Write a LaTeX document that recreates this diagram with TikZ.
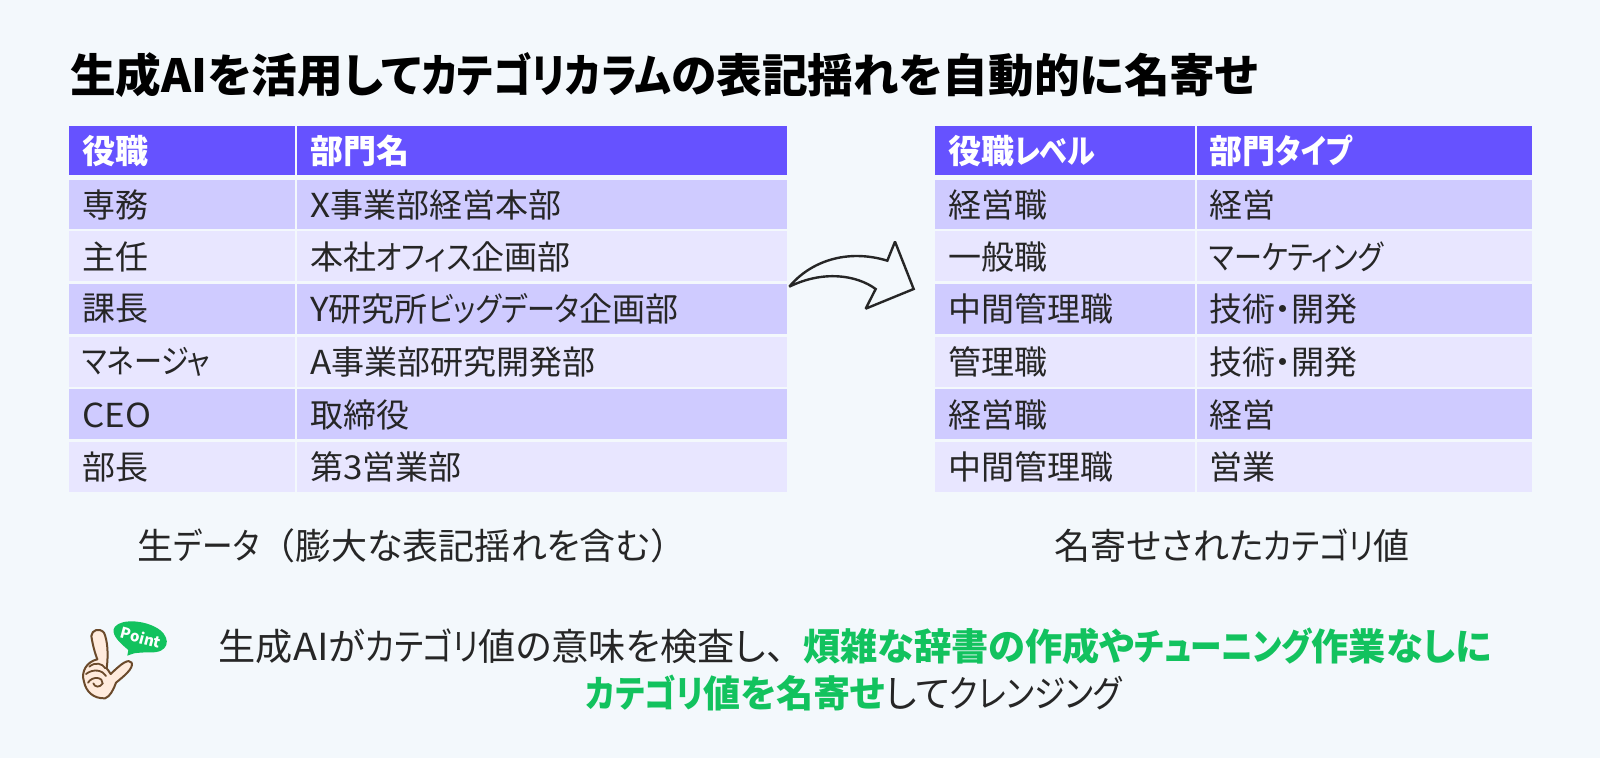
\documentclass[tikz,border=0pt]{standalone}
\usepackage{fontspec}
\setmainfont[RawFeature=+palt]{Noto Sans CJK JP}
\newfontfamily\kanafam[RawFeature=+palt,FakeStretch=0.85]{Noto Sans CJK JP}
\newfontfamily\latinfam[FakeStretch=1.06]{Noto Sans CJK JP}
\newfontfamily\fullfam{Noto Sans CJK JP}
\newcommand{\kn}[1]{{\kanafam #1}}
\newcommand{\lt}[1]{{\latinfam #1}}
\definecolor{bgc}{HTML}{F3F8FC}
\definecolor{hdr}{HTML}{6652FF}
\definecolor{rowa}{HTML}{CFCBFF}
\definecolor{rowb}{HTML}{E8E6FF}
\definecolor{ink}{HTML}{262626}
\definecolor{grn}{HTML}{12C25E}
\definecolor{handc}{HTML}{FFEBDD}
\definecolor{handl}{HTML}{6B4A2B}
\tikzset{x=1pt,y=-1pt,
 txt/.style={anchor=west,inner sep=0pt,text=ink,font=\fontsize{33}{38}\selectfont},
 htxt/.style={anchor=west,inner sep=0pt,text=white,font=\fontsize{33}{38}\selectfont\bfseries},
 captxt/.style={anchor=center,inner sep=0pt,text=ink,font=\fontsize{36}{42}\selectfont},
 pttxt/.style={anchor=center,inner sep=0pt,text=ink,font=\fontsize{37.2}{42}\selectfont},
 hand/.style={fill=handc,draw=handl,line width=2pt,line join=round,line cap=round},
 handin/.style={draw=handl,line width=1.8pt,line cap=round}}
\newcommand{\gb}[1]{\textcolor{grn}{\bfseries #1}}
\newcommand{\rowband}[3]{%
 \fill[#1] (69,#2) rectangle (294.5,#3);
 \fill[#1] (297,#2) rectangle (787,#3);
 \fill[#1] (935,#2) rectangle (1194.5,#3);
 \fill[#1] (1197,#2) rectangle (1532,#3);}
\begin{document}
\begin{tikzpicture}
\useasboundingbox (0,0) rectangle (1600,758);
\fill[bgc] (0,0) rectangle (1600,758);
\node[anchor=west,inner sep=0pt,text=black,font=\fontsize{45.7}{50}\selectfont\bfseries] (title) at (70,75) {生成AIを活用して\kn{カテゴリカラム}の表記揺れを自動的に名寄せ};
% row bands
\rowband{hdr}{125.5}{174.5}
\rowband{rowa}{180}{229}
\rowband{rowb}{231}{281}
\rowband{rowa}{284}{334}
\rowband{rowb}{337}{387}
\rowband{rowa}{389}{439}
\rowband{rowb}{442}{492}
% left table
\node[htxt] (l0a) at (82,151) {役職};
\node[htxt] (l0b) at (310,151) {部門名};
\node[txt] (l1a) at (82,205) {専務};
\node[txt] (l1b) at (310,205) {\lt{X}事業部経営本部};
\node[txt] (l2a) at (82,257) {主任};
\node[txt] (l2b) at (310,257) {本社\kn{オフィス}企画部};
\node[txt] (l3a) at (82,309) {課長};
\node[txt] (l3b) at (310,309) {\lt{Y}研究所\kn{ビッグデータ}企画部};
\node[txt] (l4a) at (82,362) {\kn{マネージャ}};
\node[txt] (l4b) at (310,362) {\lt{A}事業部研究開発部};
\node[txt] (l5a) at (82,415) {\lt{CEO}};
\node[txt] (l5b) at (310,415) {取締役};
\node[txt] (l6a) at (82,467) {部長};
\node[txt] (l6b) at (310,467) {第\lt{3}営業部};
% right table
\node[htxt] (r0a) at (948,151) {役職\kn{レベル}};
\node[htxt] (r0b) at (1209,151) {部門\kn{タイプ}};
\node[txt] (r1a) at (948,205) {経営職};
\node[txt] (r1b) at (1209,205) {経営};
\node[txt] (r2a) at (948,257) {一般職};
\node[txt] (r2b) at (1209,257) {\kn{マーケティング}};
\node[txt] (r3a) at (948,309) {中間管理職};
\node[txt] (r3b) at (1209,309) {技術・開発};
\node[txt] (r4a) at (948,362) {管理職};
\node[txt] (r4b) at (1209,362) {技術・開発};
\node[txt] (r5a) at (948,415) {経営職};
\node[txt] (r5b) at (1209,415) {経営};
\node[txt] (r6a) at (948,467) {中間管理職};
\node[txt] (r6b) at (1209,467) {営業};
% captions
\node[captxt] (capl) at (412,546) {生\kn{データ}{\fullfam （}膨大な表記揺れを含む{\fullfam ）}};
\node[captxt] (capr) at (1232,546) {名寄せされた\kn{カテゴリ}値};
\node[pttxt] (pt1) at (855,646) {生成\lt{AI}が\kn{カテゴリ}値の意味を検査し{\fullfam 、}\gb{煩雑な辞書の作成や\kn{チューニング}作業なしに}};
\node[pttxt] (pt2) at (854,693) {\gb{\kn{カテゴリ}値を名寄せ}して\kn{クレンジング}};
% curved arrow
\begin{scope}[shift={(760,220)},x=1/3*1pt,y=-1/3*1pt]
\fill[bgc,draw=black!85,line width=2.4pt,line join=miter,miter limit=2]
 (88,200) .. controls (150,125) and (260,85) .. (382,122) -- (405,65) -- (461,207) -- (317,266) -- (347,207)
 .. controls (290,165) and (190,150) .. (88,200) -- cycle;
\end{scope}
% hand with Point balloon
\begin{scope}[shift={(60,600)},x=1/3*1pt,y=-1/3*1pt]
\fill[grn] (205,150) .. controls (175,125) and (150,100) .. (165,80) .. controls (185,55) and (260,60) .. (300,90) .. controls (335,118) and (325,160) .. (270,157) .. controls (250,157) and (235,158) .. (222,160) -- (202,167) -- cycle;
\node[text=white,rotate=-15,inner sep=0pt,font=\fontsize{15}{15}\selectfont\bfseries] (pointlabel) at (243,112) {Point};
\path[hand] (140,205) .. controls (146,160) and (142,120) .. (132,98) .. controls (118,82) and (95,90) .. (94,108) .. controls (98,135) and (105,160) .. (112,178)
 .. controls (80,185) and (62,215) .. (72,245) .. controls (78,275) and (100,296) .. (135,295) .. controls (150,290) and (160,270) .. (168,248) .. controls (190,230) and (222,205) .. (215,188) .. controls (205,175) and (185,190) .. (152,222) .. controls (148,215) and (144,210) .. (140,205) -- cycle;
\draw[handin] (88,200) .. controls (105,185) and (128,190) .. (136,205);
\draw[handin] (78,222) .. controls (100,205) and (128,210) .. (138,228);
\draw[handin] (84,248) .. controls (98,226) and (130,232) .. (128,250) .. controls (120,264) and (104,262) .. (100,250);
\end{scope}
\end{tikzpicture}
\end{document}
